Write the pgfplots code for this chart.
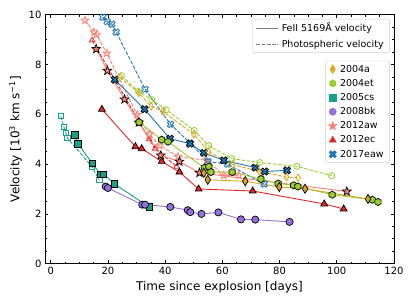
\documentclass[border=0pt]{standalone}
\usepackage{fontspec}
\setmainfont{DejaVu Sans}
\usepackage{pgfplots}
\pgfplotsset{compat=1.18}
\usetikzlibrary{plotmarks}
\definecolor{cA}{HTML}{DAA520}
\definecolor{cB}{HTML}{9ACD32}
\definecolor{cC}{HTML}{17A08A}
\definecolor{cD}{HTML}{9370DB}
\definecolor{cE}{HTML}{FA8072}
\definecolor{cF}{HTML}{E0282A}
\definecolor{cG}{HTML}{1F77B4}
\pgfdeclareplotmark{fstar}{%
 \pgfpathmoveto{\pgfpointpolar{90}{\pgfplotmarksize}}%
 \pgfpathlineto{\pgfpointpolar{126}{0.42\pgfplotmarksize}}%
 \pgfpathlineto{\pgfpointpolar{162}{\pgfplotmarksize}}%
 \pgfpathlineto{\pgfpointpolar{198}{0.42\pgfplotmarksize}}%
 \pgfpathlineto{\pgfpointpolar{234}{\pgfplotmarksize}}%
 \pgfpathlineto{\pgfpointpolar{270}{0.42\pgfplotmarksize}}%
 \pgfpathlineto{\pgfpointpolar{306}{\pgfplotmarksize}}%
 \pgfpathlineto{\pgfpointpolar{342}{0.42\pgfplotmarksize}}%
 \pgfpathlineto{\pgfpointpolar{18}{\pgfplotmarksize}}%
 \pgfpathlineto{\pgfpointpolar{54}{0.42\pgfplotmarksize}}%
 \pgfpathclose\pgfusepathqfillstroke}
\pgfdeclareplotmark{fhex}{%
 \pgfpathmoveto{\pgfpointpolar{90}{\pgfplotmarksize}}%
 \pgfpathlineto{\pgfpointpolar{150}{\pgfplotmarksize}}%
 \pgfpathlineto{\pgfpointpolar{210}{\pgfplotmarksize}}%
 \pgfpathlineto{\pgfpointpolar{270}{\pgfplotmarksize}}%
 \pgfpathlineto{\pgfpointpolar{330}{\pgfplotmarksize}}%
 \pgfpathlineto{\pgfpointpolar{30}{\pgfplotmarksize}}%
 \pgfpathclose\pgfusepathqfillstroke}
\pgfdeclareplotmark{tdia}{%
 \pgfpathmoveto{\pgfpoint{0pt}{\pgfplotmarksize}}%
 \pgfpathlineto{\pgfpoint{0.6\pgfplotmarksize}{0pt}}%
 \pgfpathlineto{\pgfpoint{0pt}{-\pgfplotmarksize}}%
 \pgfpathlineto{\pgfpoint{-0.6\pgfplotmarksize}{0pt}}%
 \pgfpathclose\pgfusepathqfillstroke}
\pgfdeclareplotmark{fX}{%
 \pgfpathmoveto{\pgfpoint{0.471\pgfplotmarksize}{-0.943\pgfplotmarksize}}%
 \pgfpathlineto{\pgfpoint{0pt}{-0.471\pgfplotmarksize}}%
 \pgfpathlineto{\pgfpoint{-0.471\pgfplotmarksize}{-0.943\pgfplotmarksize}}%
 \pgfpathlineto{\pgfpoint{-0.943\pgfplotmarksize}{-0.471\pgfplotmarksize}}%
 \pgfpathlineto{\pgfpoint{-0.471\pgfplotmarksize}{0pt}}%
 \pgfpathlineto{\pgfpoint{-0.943\pgfplotmarksize}{0.471\pgfplotmarksize}}%
 \pgfpathlineto{\pgfpoint{-0.471\pgfplotmarksize}{0.943\pgfplotmarksize}}%
 \pgfpathlineto{\pgfpoint{0pt}{0.471\pgfplotmarksize}}%
 \pgfpathlineto{\pgfpoint{0.471\pgfplotmarksize}{0.943\pgfplotmarksize}}%
 \pgfpathlineto{\pgfpoint{0.943\pgfplotmarksize}{0.471\pgfplotmarksize}}%
 \pgfpathlineto{\pgfpoint{0.471\pgfplotmarksize}{0pt}}%
 \pgfpathlineto{\pgfpoint{0.943\pgfplotmarksize}{-0.471\pgfplotmarksize}}%
 \pgfpathclose\pgfusepathqfillstroke}
\pgfplotsset{
 ph/.style={color=#1, line width=0.9pt, dash pattern=on 3.7pt off 1.6pt, forget plot,
   mark options={solid, fill opacity=0, line width=0.8pt}},
 fe/.style={color=#1, line width=0.9pt, solid, forget plot,
   mark options={solid, draw=black, fill=#1, line width=0.7pt}},
}
\begin{document}
\begin{tikzpicture}
\begin{axis}[
 width=349pt, height=249pt, scale only axis,
 xmin=-2, xmax=120, ymin=0, ymax=10,
 xtick={0,20,...,120}, ytick={0,2,...,10},
 minor x tick num=3, minor y tick num=3,
 tick align=inside, xtick pos=both, ytick pos=both,
 major tick length=3.5pt, minor tick length=2pt,
 tick style={black, line width=0.6pt},
 axis line style={line width=0.8pt},
 /pgf/number format/assume math mode=true,
 ticklabel style={font=\fontsize{10}{12}\selectfont},
 label style={font=\fontsize{12}{14}\selectfont},
 xlabel={Time since explosion [days]},
 ylabel={Velocity [10\textsuperscript{3} km s\textsuperscript{−1}]},
 legend style={at={(0.988,0.815)}, anchor=north east, draw=black!20, rounded corners=2pt,
   fill=white, font=\fontsize{9.5}{11}\selectfont, row sep=1.6pt,
   nodes={inner xsep=3pt}},
 legend cell align=left,
]
% 2005cs
\addplot[ph=cC, mark=square*, mark size=2.6pt] coordinates {(3.5,5.92)(4.6,5.5)(5.3,5.25)(5.8,5.05)(14.4,3.9)(17.0,3.35)};
\addplot[fe=cC, mark=square*, mark size=3.2pt] coordinates {(8.4,5.18)(9.5,4.82)(14.5,4.03)(17.3,3.6)(18.5,3.6)(22.3,3.2)(34.4,2.28)};
% 2008bk
\addplot[fe=cD, mark=*, mark size=3.6pt] coordinates {(19.2,3.1)(20.0,3.04)(32.0,2.37)(33.0,2.37)(41.8,2.28)(47.9,2.15)(48.8,2.07)(52.7,2.0)(58.6,2.06)(66.5,1.78)(71.5,1.77)(83.5,1.68)};
% 2012ec
\addplot[ph=cF, mark=triangle*, mark size=3.2pt] coordinates {(14.5,8.97)(34.4,5.0)(36.5,4.62)(44.0,3.9)};
\addplot[fe=cF, mark=triangle*, mark size=4pt] coordinates {(17.9,6.2)(29.6,4.7)(31.8,4.62)(38.8,4.11)(45.0,3.68)(51.7,3.0)(70.6,2.92)(95.6,2.4)(102.4,2.2)};
% 2012aw
\addplot[ph=cE, mark=fstar, mark size=4pt] coordinates {(12.0,9.77)(15.1,9.3)(16.0,9.2)(19.6,8.45)(30.2,5.98)(34.5,5.2)(38.0,4.75)(44.5,4.3)(54.5,4.15)(60.5,3.55)(65.7,3.55)};
\addplot[fe=cE, mark=fstar, mark size=4.6pt] coordinates {(15.9,8.62)(19.8,7.75)(25.8,6.6)(30.8,5.67)(38.5,4.35)(45.0,4.1)(52.0,3.65)(103.5,2.9)};
% 2017eaw
\addplot[ph=cG, mark=fX, mark size=3.4pt] coordinates {(18.2,9.9)(19.7,9.72)(21.4,9.62)(22.9,9.3)(33.0,7.0)(41.9,5.6)(48.7,4.85)(55.0,4.1)(61.8,4.0)(74.6,3.2)};
\addplot[fe=cG, mark=fX, mark size=3.8pt] coordinates {(22.4,7.39)(32.8,6.2)(41.7,5.02)(48.7,4.82)(53.5,4.45)(60.5,4.15)(71.5,3.86)(74.8,3.7)(82.6,3.75)};
% 2004et
\addplot[ph=cB, mark=fhex, mark size=3.2pt] coordinates {(24.7,7.55)(30.7,6.92)(35.3,6.59)(40.4,6.18)(50.2,5.35)(55.2,4.74)(63.3,4.22)(73.0,4.06)(86.0,3.91)(98.2,3.53)};
\addplot[fe=cB, mark=fhex, mark size=3.6pt] coordinates {(30.9,5.68)(38.8,4.98)(41.0,4.9)(53.7,3.85)(55.3,3.9)(56.0,3.68)(63.4,3.68)(73.5,3.4)(79.5,3.22)(84.9,3.15)(86.4,3.1)(98.4,2.77)(112.4,2.57)(114.4,2.48)};
% 2004a
\addplot[ph=cA, mark=tdia, mark size=3.8pt] coordinates {(24.3,7.48)(30.8,6.86)(35.1,6.32)(39.2,6.12)(50.0,5.2)(55.2,4.5)(63.6,3.98)(72.9,3.71)(82.4,3.48)(86.5,3.45)};
\addplot[fe=cA, mark=tdia, mark size=4.6pt] coordinates {(53.5,3.65)(54.9,3.37)(68.0,3.31)(79.9,3.08)(88.9,3.01)(110.9,2.6)};
% legend
\addlegendimage{only marks, mark=tdia, mark size=4.5pt, color=cA}
\addlegendentry{2004a}
\addlegendimage{only marks, mark=fhex, mark size=3.7pt, color=cB}
\addlegendentry{2004et}
\addlegendimage{only marks, mark=square*, mark size=3.2pt, color=cC}
\addlegendentry{2005cs}
\addlegendimage{only marks, mark=*, mark size=3.6pt, color=cD}
\addlegendentry{2008bk}
\addlegendimage{only marks, mark=fstar, mark size=4.5pt, color=cE}
\addlegendentry{2012aw}
\addlegendimage{only marks, mark=triangle*, mark size=4pt, color=cF}
\addlegendentry{2012ec}
\addlegendimage{only marks, mark=fX, mark size=3.9pt, color=cG}
\addlegendentry{2017eaw}
\end{axis}
\begin{axis}[
 width=349pt, height=249pt, scale only axis, hide axis,
 xmin=0, xmax=1, ymin=0, ymax=1,
 legend style={at={(0.988,0.983)}, anchor=north east, draw=black!20, rounded corners=2pt,
   fill=white, font=\fontsize{9.5}{11}\selectfont, row sep=2.5pt,
   nodes={inner xsep=3pt}},
 legend cell align=left,
 legend image code/.code={\draw[#1] (0pt,0pt) -- (22pt,0pt);},
]
\addlegendimage{color=gray, line width=1pt, solid}
\addlegendentry{FeII 5169Å velocity}
\addlegendimage{color=gray, line width=1pt, dash pattern=on 3.7pt off 1.6pt}
\addlegendentry{Photospheric velocity}
\end{axis}
\path (current axis.south west) ++(-45pt,-41pt);
\path (current axis.north east) ++(21pt,14.7pt);
\end{tikzpicture}
\end{document}
